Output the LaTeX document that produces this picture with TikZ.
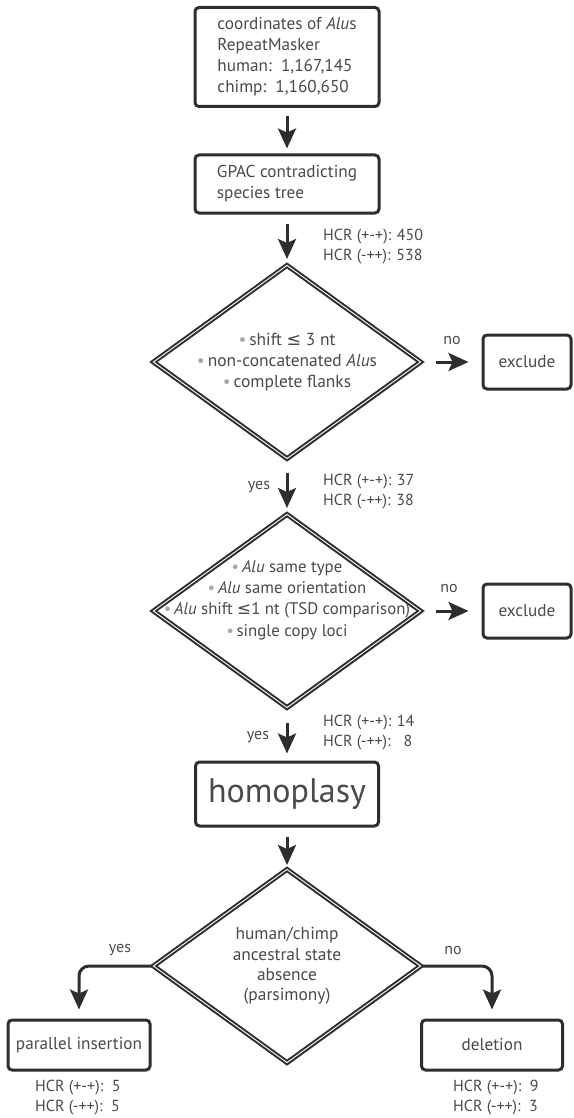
\documentclass[tikz,border=0pt]{standalone}
\usepackage{fontspec}
\setmainfont{PT Sans}
\newfontfamily\symfont{DejaVu Sans}
\usetikzlibrary{shapes.geometric,arrows.meta,shadows}

\definecolor{linec}{HTML}{2E2E2E}
\definecolor{textc}{HTML}{4A4A4A}
\definecolor{dotc}{HTML}{A8A8A8}
\newcommand{\blt}{{\color{dotc}\textbullet}\,}
\newcommand{\leqsym}{{\symfont ≤}}

\tikzset{
    box/.style={draw=linec, line width=3pt, rounded corners=4pt, fill=white,
        text=textc, font=\fontsize{17.2}{21}\selectfont},
    decision/.style={diamond, draw=linec, line width=2pt, double=white,
        double distance=0.9pt, fill=white, inner sep=0pt,
        minimum width=268pt, minimum height=194pt,
        drop shadow={shadow xshift=0.5pt, shadow yshift=-3pt, opacity=0.45, fill=gray}},
    intext/.style={align=center, text=textc, font=\fontsize{17.4}{21.3}\selectfont},
    count/.style={anchor=west, align=left, text=textc, inner sep=0pt,
        font=\fontsize{16}{20}\selectfont},
    lbl/.style={text=textc, inner sep=0pt, font=\fontsize{16}{18}\selectfont},
    arr/.style={draw=linec, line width=3pt, -{Stealth[length=20pt,width=18pt,inset=4pt]}}
}

\begin{document}
\begin{tikzpicture}[x=1pt, y=-1pt]
    \useasboundingbox (0,0) rectangle (573,1118);

    % Input boxes
    \node[box, minimum width=184pt, minimum height=99pt, align=left] (coords) at (287,57)
        {coordinates of \textit{Alu}s\\RepeatMasker\\human:\ \ 1,167,145\\chimp:\ \ 1,160,650};
    \node[box, minimum width=184pt, minimum height=58pt, align=left] (gpac) at (287,184)
        {GPAC contradicting\\species tree};

    % First filter
    \node[decision] (filter) at (287,362) {};
    \node[intext] (filtertxt) at (filter.center)
        {\blt shift \leqsym\ 3 nt\\\blt non-concatenated \textit{Alu}s\\\blt complete flanks};
    \node[box, minimum width=88pt, minimum height=54pt] (exclA) at (527,362) {exclude};

    % Second filter
    \node[decision] (check) at (287,611) {};
    \node[intext, font=\fontsize{16.8}{21.3}\selectfont] (checktxt) at (287,600)
        {\blt\textit{Alu} same type\\\blt\textit{Alu} same orientation\\
         \blt\textit{Alu} shift\ \leqsym1 nt (TSD comparison)\\\blt single copy loci};
    \node[box, minimum width=88pt, minimum height=54pt] (exclB) at (527,611) {exclude};

    % Result
    \node[box, minimum width=183pt, minimum height=64pt, font=\fontsize{34}{40}\selectfont]
        (homo) at (287,794) {homoplasy};

    % Parsimony decision
    \node[decision] (anc) at (287,966) {};
    \node[intext, font=\fontsize{17.4}{20.3}\selectfont] (anctxt) at (anc.center)
        {human/chimp\\ancestral state\\absence\\(parsimony)};
    \node[box, minimum width=142pt, minimum height=50pt] (par) at (79,1045) {parallel insertion};
    \node[box, minimum width=141pt, minimum height=50pt] (del) at (492,1045) {deletion};

    % Counts
    \node[count] (cntA) at (323,247) {HCR (+-+): 450\\HCR (-++): 538};
    \node[count] (cntB) at (323,492) {HCR (+-+): 37\\HCR (-++): 38};
    \node[count] (cntC) at (323,733) {HCR (+-+): 14\\HCR (-++):\ \ \ 8};
    \node[count] (cntD) at (35,1098) {HCR (+-+):\ \ 5\\HCR (-++):\ \ 5};
    \node[count] (cntE) at (453,1098) {HCR (+-+):\ \ 9\\HCR (-++):\ \ 3};

    % yes / no
    \node[lbl] (yesA) at (259,487) {yes};
    \node[lbl] (yesB) at (258,737) {yes};
    \node[lbl] (noA) at (452,340) {no};
    \node[lbl] (noB) at (449,588) {no};
    \node[lbl] (yesC) at (120,950) {yes};
    \node[lbl] (noC) at (453,950) {no};

    % Arrows
    \draw[arr, shorten <=8pt, shorten >=5pt] (coords) -- (gpac);
    \draw[arr, shorten <=9pt, shorten >=5pt] (gpac) -- (filter);
    \draw[arr, shorten <=13pt, shorten >=5pt] (filter) -- (check);
    \draw[arr, shorten <=14pt, shorten >=7pt] (check) -- (homo);
    \draw[arr, shorten <=9pt, shorten >=3pt] (homo) -- (anc);
    \draw[arr, shorten <=14pt, shorten >=13pt] (filter) -- (exclA);
    \draw[arr, shorten <=14pt, shorten >=13pt] (check) -- (exclB);
    \draw[arr, rounded corners=10pt, shorten >=9pt] (anc.west) -| (par.north);
    \draw[arr, rounded corners=10pt, shorten >=9pt] (anc.east) -| (del.north);
\end{tikzpicture}
\end{document}
